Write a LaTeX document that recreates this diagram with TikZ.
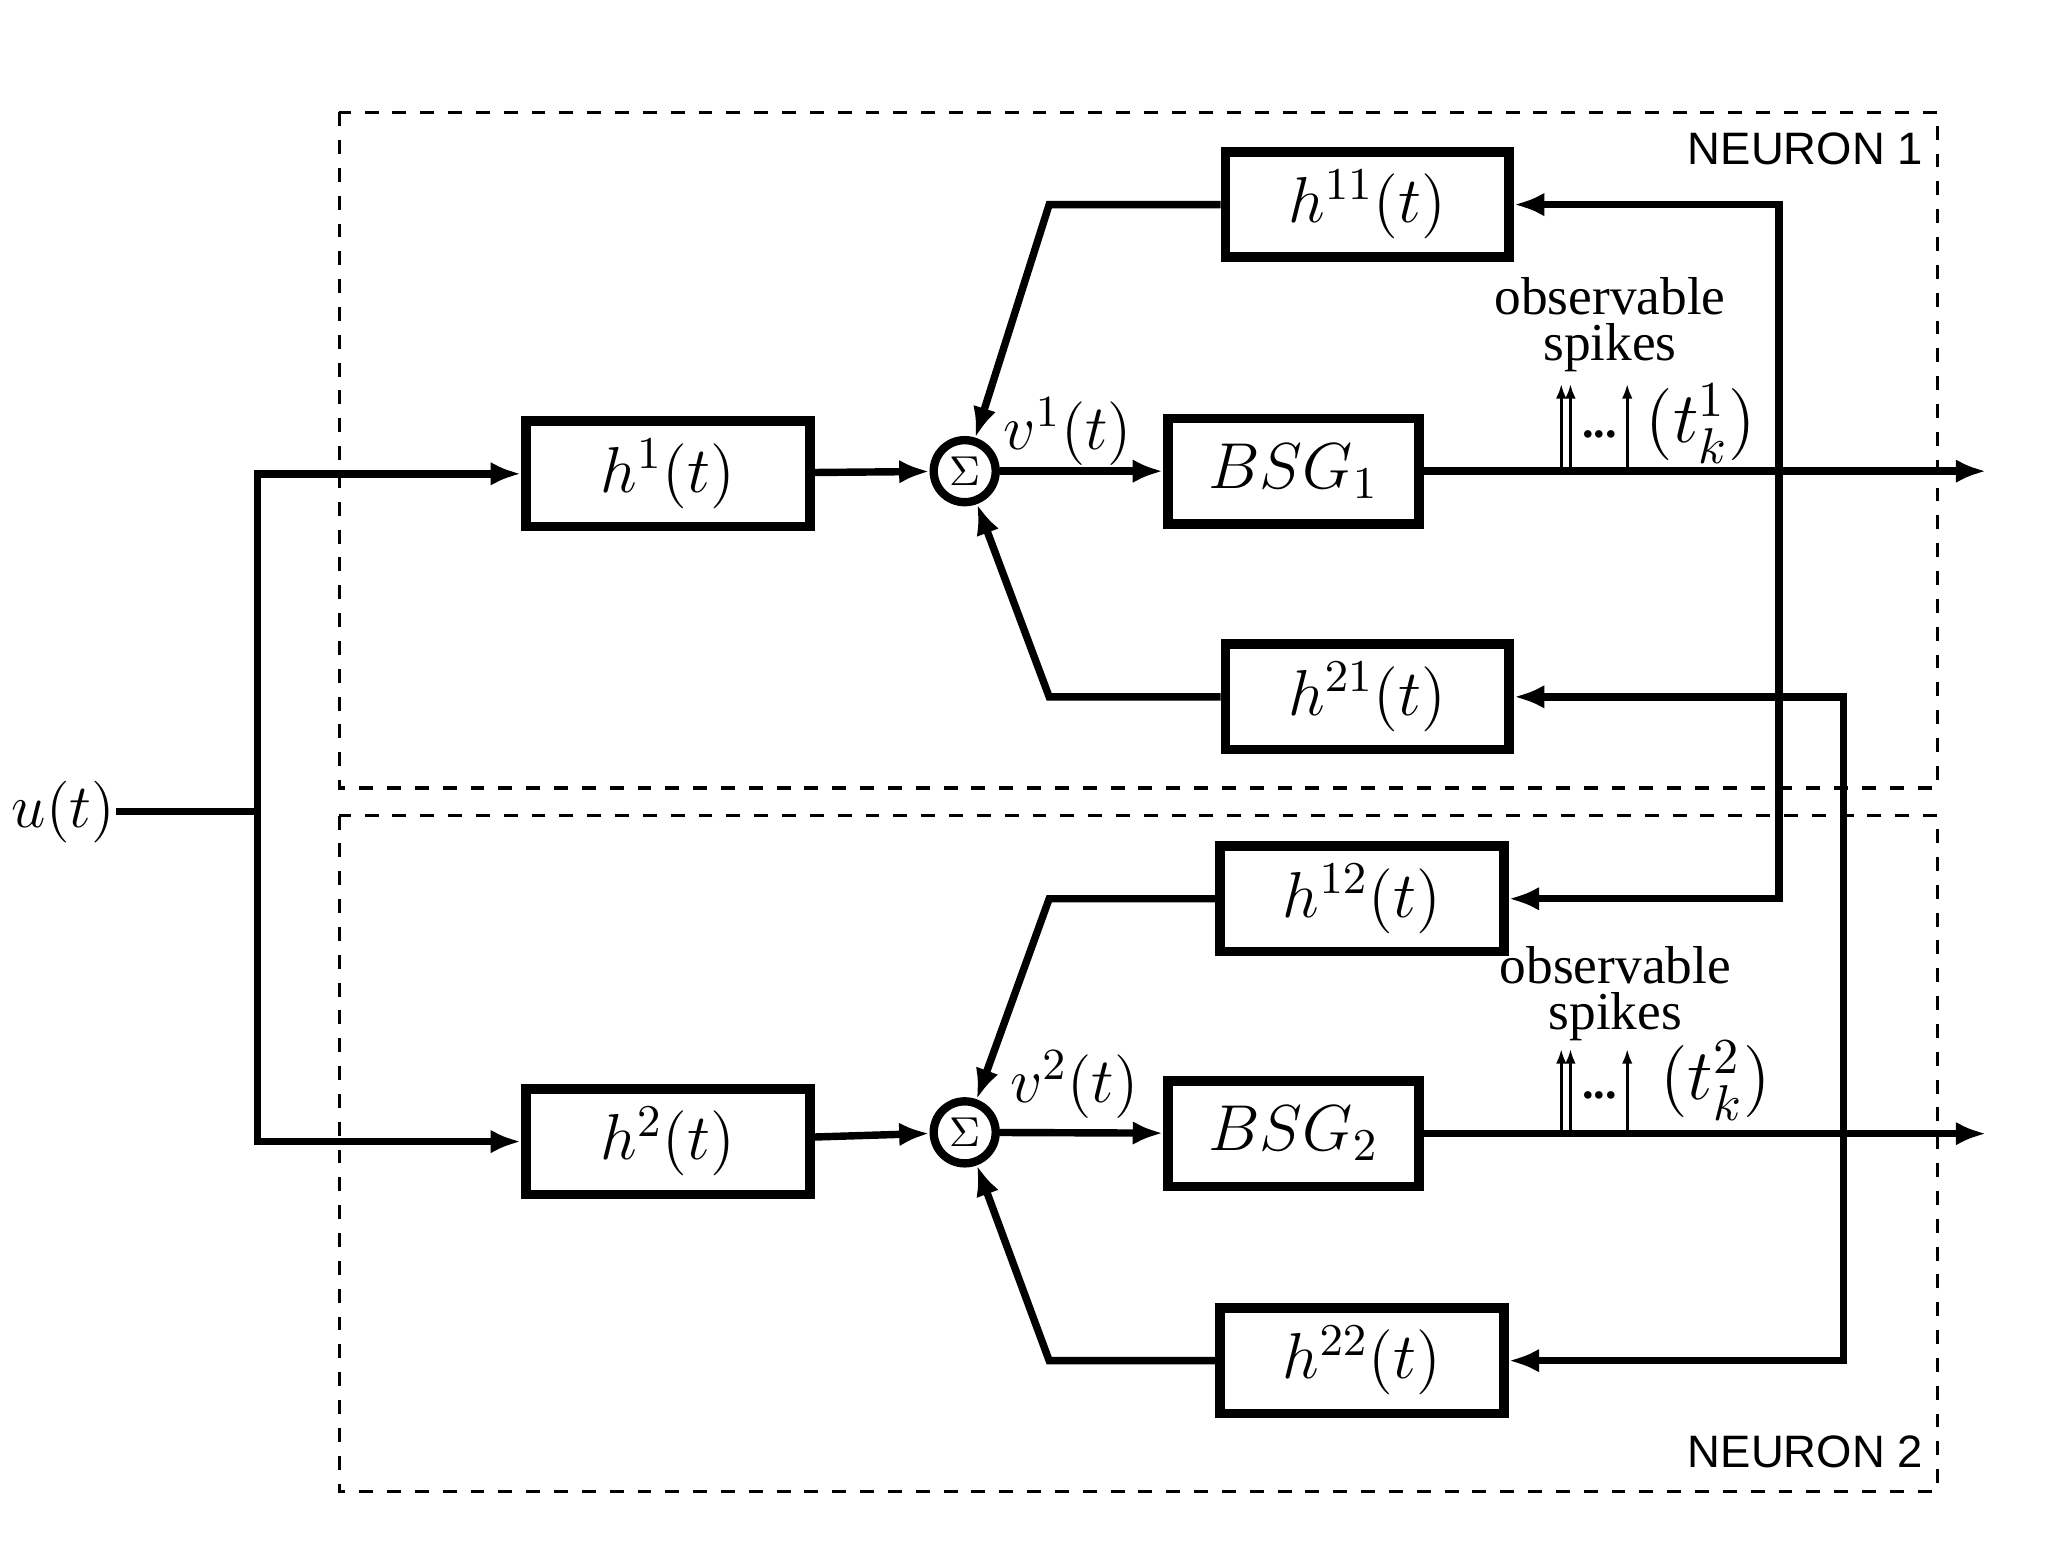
\RequirePackage{fix-cm}
\documentclass[tikz,border=0pt]{standalone}
\usepackage{fontspec}
\usepackage{amssymb}
\usepackage{tikz}
\usetikzlibrary{positioning, shapes}
\usetikzlibrary{arrows.meta}
\newfontfamily\neuronfont{Liberation Sans}
\newfontfamily\spikefont{Liberation Serif}

\begin{document}
\begin{tikzpicture}
            \tikzset{edge/.style = {line width=1.6pt,-{Latex[length=2.3mm,width=1.8mm]}}}
            \tikzset{wire/.style = {line width=1.6pt}}
            \tikzset{block/.style = {draw,line width=2.1pt,minimum width=2.15cm,minimum height=0.80cm,font=\fontsize{14}{16}\selectfont}}
            \tikzset{summer/.style = {draw,circle,line width=1.8pt,minimum size=0.47cm,inner sep=0pt,font=\fontsize{9}{10}\selectfont}}
            \tikzset{spike/.style = {line width=0.55pt,-{Latex[length=1.1mm,width=0.8mm]}}}
            \tikzset{neuronbox/.style = {draw,dashed,line width=0.7pt}}
            \tikzset{mathlabel/.style = {font=\fontsize{13.7}{16}\selectfont,inner sep=0pt}}

            \useasboundingbox (0,0) rectangle (15.67,-11.85);

            % neuron boxes
            \draw[neuronbox] (2.57,-0.85) rectangle (14.68,-5.97);
            \draw[neuronbox] (2.57,-6.18) rectangle (14.68,-11.30);
            \node[font=\neuronfont\fontsize{9.8}{12}\selectfont] (n1) at (13.68,-1.13) {NEURON 1};
            \node[font=\neuronfont\fontsize{9.8}{12}\selectfont] (n2) at (13.68,-11.00) {NEURON 2};

            % input
            \node[mathlabel,font=\fontsize{13.3}{15}\selectfont] (u) at (0.48,-6.15) {$u(t)$};
            \coordinate (split) at (1.95,-6.15);

            % neuron 1
            \node[block] (h1) at (5.06,-3.59) {$h^1(t)$};
            \node[summer] (sum1) at (7.31,-3.57) {$\Sigma$};
            \node[block,minimum width=1.90cm] (bsg1) at (9.80,-3.57) {$BSG_1$};
            \node[block] (h11) at (10.36,-1.55) {$h^{11}(t)$};
            \node[block] (h21) at (10.36,-5.28) {$h^{21}(t)$};
            \coordinate (out1) at (15.05,-3.57);
            \coordinate (tap1) at (13.48,-3.57);
            \coordinate (fb11) at (7.95,-1.55);
            \coordinate (fb21) at (7.95,-5.28);

            % neuron 2
            \node[block] (h2) at (5.06,-8.65) {$h^2(t)$};
            \node[summer] (sum2) at (7.31,-8.58) {$\Sigma$};
            \node[block,minimum width=1.90cm] (bsg2) at (9.80,-8.59) {$BSG_2$};
            \node[block] (h12) at (10.32,-6.81) {$h^{12}(t)$};
            \node[block] (h22) at (10.32,-10.31) {$h^{22}(t)$};
            \coordinate (out2) at (15.05,-8.59);
            \coordinate (tap2) at (13.97,-8.59);
            \coordinate (fb12) at (7.95,-6.81);
            \coordinate (fb22) at (7.95,-10.31);

            % input lines
            \draw[wire] (u) -- (split);
            \draw[edge] (split) |- (h1);
            \draw[edge] (split) |- (h2);

            % forward path
            \draw[edge] (h1) -- (sum1);
            \draw[edge] (sum1) -- (bsg1);
            \draw[edge] (bsg1) -- (out1);
            \draw[edge] (h2) -- (sum2);
            \draw[edge] (sum2) -- (bsg2);
            \draw[edge] (bsg2) -- (out2);
            \node[mathlabel] (v1) at (8.09,-3.27) {$v^1(t)$};
            \node[mathlabel] (v2) at (8.14,-8.22) {$v^2(t)$};

            % feedback into the sums
            \draw[edge] (h11.west) -- (fb11) -- (sum1);
            \draw[edge] (h21.west) -- (fb21) -- (sum1);
            \draw[edge] (h12.west) -- (fb12) -- (sum2);
            \draw[edge] (h22.west) -- (fb22) -- (sum2);

            % cross coupling
            \draw[edge] (tap1) |- (h11.east);
            \draw[edge] (tap1) |- (h12.east);
            \draw[edge] (tap2) |- (h21.east);
            \draw[edge] (tap2) |- (h22.east);

            % observable spikes
            \foreach \s in {2.03,2.10,2.53} {
                \draw[spike] ([xshift=\s cm]bsg1.center) -- ++(0,0.66);
                \draw[spike] ([xshift=\s cm]bsg2.center) -- ++(0,0.64);
            }
            \node[font=\spikefont\bfseries\fontsize{10}{10}\selectfont,inner sep=0pt] (dots1) at (12.12,-3.29) {...};
            \node[font=\spikefont\bfseries\fontsize{10}{10}\selectfont,inner sep=0pt] (dots2) at (12.12,-8.30) {...};
            \node[mathlabel,font=\fontsize{15.5}{17}\selectfont] (tk1) at (12.89,-3.21) {$(t_k^1)$};
            \node[mathlabel,font=\fontsize{15.5}{17}\selectfont] (tk2) at (13.00,-8.19) {$(t_k^2)$};
            \node[font=\spikefont\fontsize{11.5}{10}\selectfont,align=center,inner sep=0pt] (obs1) at (12.20,-2.46) {observable\\spikes};
            \node[font=\spikefont\fontsize{11.5}{10}\selectfont,align=center,inner sep=0pt] (obs2) at (12.24,-7.53) {observable\\spikes};
        \end{tikzpicture}
\end{document}
